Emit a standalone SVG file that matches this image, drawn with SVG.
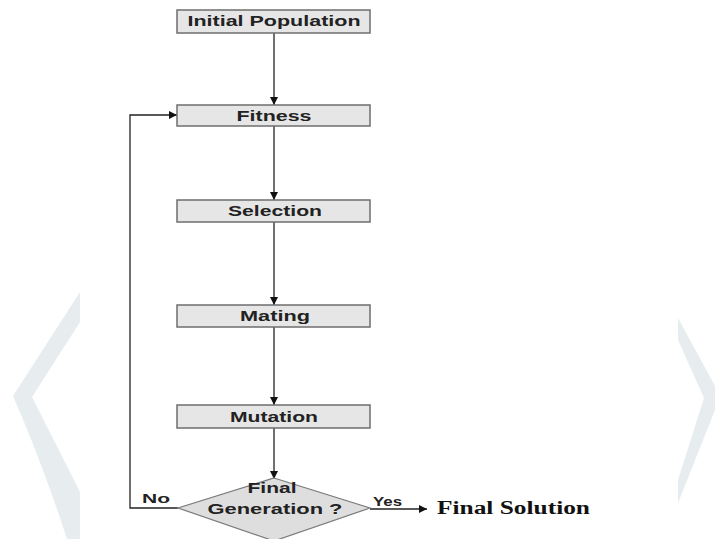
<svg xmlns="http://www.w3.org/2000/svg" width="715" height="539" viewBox="0 0 715 539">
<defs>
<style>
.box{fill:#e6e6e6;stroke:#6e6e6e;stroke-width:1.5}
.dia{fill:#dedede;stroke:#7a7a7a;stroke-width:1.2}
.lbl{font-family:"Liberation Sans",Arial,sans-serif;font-weight:bold;font-size:15px;fill:#222;text-anchor:middle}
.sm{font-family:"Liberation Sans",Arial,sans-serif;font-weight:bold;font-size:13px;fill:#222}
.sol{font-family:"Liberation Serif","Times New Roman",serif;font-weight:bold;font-size:18px;fill:#111}
.wm{fill:#e7ecef}
.con{fill:none;stroke:#222;stroke-width:1.3}
</style>
<marker id="ah" viewBox="0 0 10 10" refX="10" refY="5" markerWidth="8" markerHeight="8" markerUnits="userSpaceOnUse" orient="auto">
<path d="M0,0 L10,5 L0,10 z" fill="#111"/>
</marker>
</defs>
<rect width="715" height="539" fill="#fff"/>
<g id="watermark">
<path class="wm" d="M80,292 L13,396 Q42,462 67,539 L80,539 L80,492 L32,397 L80,322 Z"/>
<path class="wm" d="M678,318 L715,386 L715,410 L678,503 L678,480 L704,398 L678,340 Z"/>
</g>
<g id="connectors">
<line class="con" x1="274" y1="33" x2="274" y2="105" marker-end="url(#ah)"/>
<line class="con" x1="274" y1="126" x2="274" y2="200" marker-end="url(#ah)"/>
<line class="con" x1="274" y1="222" x2="274" y2="305" marker-end="url(#ah)"/>
<line class="con" x1="274" y1="327" x2="274" y2="405" marker-end="url(#ah)"/>
<line class="con" x1="274" y1="428" x2="274" y2="479" marker-end="url(#ah)"/>
<polyline class="con" points="178,508 130,508 130,115 177,115" marker-end="url(#ah)"/>
<line class="con" x1="370" y1="509" x2="427" y2="509" marker-end="url(#ah)"/>
<text class="sm" x="142" y="503" textLength="28" lengthAdjust="spacingAndGlyphs">No</text>
<text class="sm" x="373" y="506" font-size="11" textLength="29" lengthAdjust="spacingAndGlyphs">Yes</text>
</g>
<g id="n-initial">
<rect class="box" x="177" y="10" width="193" height="23"/>
<text class="lbl" x="274" y="26" textLength="173" lengthAdjust="spacingAndGlyphs">Initial Population</text>
</g>
<g id="n-fitness">
<rect class="box" x="177" y="105" width="193" height="21"/>
<text class="lbl" x="274" y="121" textLength="75" lengthAdjust="spacingAndGlyphs">Fitness</text>
</g>
<g id="n-selection">
<rect class="box" x="177" y="200" width="193" height="22"/>
<text class="lbl" x="275" y="216" textLength="94" lengthAdjust="spacingAndGlyphs">Selection</text>
</g>
<g id="n-mating">
<rect class="box" x="177" y="305" width="193" height="22"/>
<text class="lbl" x="275" y="321" textLength="70" lengthAdjust="spacingAndGlyphs">Mating</text>
</g>
<g id="n-mutation">
<rect class="box" x="177" y="405" width="193" height="23"/>
<text class="lbl" x="274" y="422" textLength="88" lengthAdjust="spacingAndGlyphs">Mutation</text>
</g>
<g id="n-decision">
<polygon class="dia" points="274,478 370,508 274,541 178,508"/>
<text class="lbl" x="272" y="493" textLength="49" lengthAdjust="spacingAndGlyphs">Final</text>
<text class="lbl" x="275" y="514" textLength="135" lengthAdjust="spacingAndGlyphs">Generation ?</text>
</g>
<g id="n-solution">
<text class="sol" x="437" y="514" textLength="153" lengthAdjust="spacingAndGlyphs">Final Solution</text>
</g>
</svg>
